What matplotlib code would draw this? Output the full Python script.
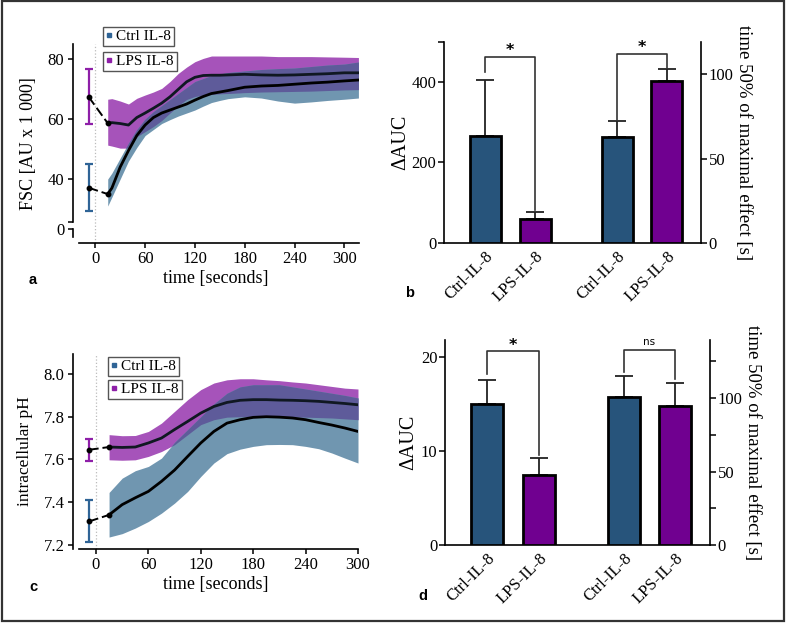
import numpy as np
import matplotlib.pyplot as plt
from matplotlib.lines import Line2D
from matplotlib.patches import Rectangle

plt.rcParams['font.family'] = ['Liberation Serif', 'DejaVu Serif']

W, H = 787, 623

# colours
ctrl_band = '#7096b0'
lps_band = '#a653ba'
both_band = '#5e5b9a'
ctrl_bar = '#27547b'
lps_bar = '#700090'
ctrl_err = '#2f6496'
lps_err = '#8e1fa8'

# ---- panel a : FSC over time ----
t_a = [15, 20, 30, 40, 50, 60, 70, 80, 90, 100, 110, 120, 130, 140, 150, 160,
       180, 200, 220, 240, 260, 280, 300, 317]
fsc_ctrl = [35, 37, 44, 49.5, 54.5, 58, 60.5, 62, 63, 64, 65, 66.3, 67.5, 68.5, 69, 69.5,
            70.6, 71, 71.2, 71.6, 72, 72.3, 72.7, 73]
fsc_ctrl_lo = [31, 34, 40, 46, 50.5, 54.5, 56.5, 58.5, 59.8, 61, 62, 63, 64.3, 65.5, 66.2, 66.8,
               67.4, 67, 66, 65.3, 65.7, 66.2, 66.6, 67]
fsc_ctrl_hi = [40, 42, 47, 52, 56.5, 60, 62.5, 64.5, 66.5, 68.5, 70.5, 72.5, 73.5, 74.5, 75, 75.5,
               76, 76.5, 76.8, 77, 77.5, 78, 78.3, 79]
fsc_lps = [58.6, 58.8, 58.5, 58, 60.5, 62, 63.6, 65.3, 67.4, 69.9, 72.4, 73.9, 74.5, 74.6, 74.6, 74.7,
           74.9, 74.7, 74.6, 74.7, 74.9, 75.1, 75.4, 75.4]
fsc_lps_lo = [51.3, 51, 50.3, 50.3, 54.1, 55.8, 57.5, 59.5, 62, 64.5, 66.5, 67.5, 68, 68.2, 68.4, 68.5,
              68.8, 69, 69.1, 69.2, 69.3, 69.5, 69.7, 69.8]
fsc_lps_hi = [66.6, 66.8, 66, 65, 66.9, 68, 69, 70.2, 72.5, 75.2, 77.3, 79.1, 80.2, 81, 81, 81,
              81, 81, 80.8, 80.8, 80.8, 80.7, 80.6, 80.5]
fsc_base_ctrl, fsc_base_ctrl_lo, fsc_base_ctrl_hi = 37.1, 29.3, 44.9
fsc_base_lps, fsc_base_lps_lo, fsc_base_lps_hi = 67.4, 58.2, 76.7

# ---- panel c : intracellular pH over time ----
t_c = [15, 30, 45, 60, 75, 90, 105, 120, 135, 150, 165, 180, 195, 210, 225, 240, 255, 270, 285, 300]
ph_ctrl = [7.34, 7.388, 7.42, 7.45, 7.497, 7.55, 7.614, 7.677, 7.731, 7.77, 7.786, 7.797, 7.8,
           7.798, 7.794, 7.786, 7.773, 7.761, 7.747, 7.731]
ph_ctrl_lo = [7.236, 7.252, 7.278, 7.309, 7.348, 7.395, 7.45, 7.52, 7.583, 7.627, 7.648, 7.661,
              7.669, 7.67, 7.669, 7.661, 7.65, 7.63, 7.606, 7.583]
ph_ctrl_hi = [7.445, 7.512, 7.547, 7.567, 7.606, 7.68, 7.74, 7.8, 7.86, 7.91, 7.94, 7.95, 7.95,
              7.95, 7.94, 7.93, 7.92, 7.91, 7.9, 7.888]
ph_lps = [7.658, 7.656, 7.658, 7.677, 7.7, 7.74, 7.778, 7.817, 7.848, 7.867, 7.877, 7.88, 7.88,
          7.878, 7.877, 7.875, 7.872, 7.867, 7.862, 7.856]
ph_lps_lo = [7.598, 7.596, 7.598, 7.614, 7.637, 7.669, 7.716, 7.763, 7.786, 7.798, 7.8, 7.8, 7.8,
             7.8, 7.799, 7.798, 7.796, 7.794, 7.79, 7.786]
ph_lps_hi = [7.716, 7.711, 7.712, 7.731, 7.77, 7.825, 7.88, 7.927, 7.958, 7.973, 7.978, 7.978,
             7.973, 7.969, 7.963, 7.958, 7.95, 7.942, 7.934, 7.93]
ph_base_ctrl, ph_base_ctrl_lo, ph_base_ctrl_hi = 7.309, 7.212, 7.408
ph_base_lps, ph_base_lps_lo, ph_base_lps_hi = 7.645, 7.594, 7.697

# ---- panels b and d : bars ----
bar_labels = ['Ctrl-IL-8', 'LPS-IL-8', 'Ctrl-IL-8', 'LPS-IL-8']
b_auc = [265, 60]
b_auc_err = [140, 17]
b_t50 = [63, 96]
b_t50_err = [9, 7]
d_auc = [15.0, 7.45]
d_auc_err = [2.55, 1.8]
d_t50 = [100.7, 94.6]
d_t50_err = [14.3, 15.6]


def px_rect(left, top, right, bottom):
    return [left / W, 1 - bottom / H, (right - left) / W, (bottom - top) / H]


fig = plt.figure(figsize=(W / 100, H / 100), dpi=100)
fig.add_artist(Rectangle((0.003, 0.004), 0.993, 0.994, transform=fig.transFigure,
                         fill=False, edgecolor='#333333', lw=1.6))


def style_time_axis(ax):
    for s in ['top', 'right']:
        ax.spines[s].set_visible(False)
    for s in ['left', 'bottom']:
        ax.spines[s].set_linewidth(1.2)
    ax.tick_params(direction='out', length=3.5, width=1.1, labelsize=12, pad=2.5)
    ax.tick_params(axis='y', which='minor', length=3.5, width=1.1)
    ax.set_xticks([0, 60, 120, 180, 240, 300])
    ax.axvline(0, color='#bbbbbb', lw=0.9, ls=':', zorder=0)


def time_panel(ax, t, ctrl, clo, chi, lps, llo, lhi, base_c, base_l):
    t = np.array(t)
    ax.fill_between(t, llo, lhi, color=lps_band, lw=0, zorder=1)
    ax.fill_between(t, clo, chi, color=ctrl_band, lw=0, zorder=2)
    lo = np.maximum(clo, llo)
    hi = np.minimum(chi, lhi)
    ax.fill_between(t, lo, hi, where=hi > lo, interpolate=True, color=both_band, lw=0, zorder=3)
    ax.plot(t, ctrl, color='black', lw=2, zorder=5)
    ax.plot(t, lps, color='#101822', lw=2, zorder=5)
    for (m, lo_, hi_), first, col in [(base_c, ctrl[0], ctrl_err), (base_l, lps[0], lps_err)]:
        ax.errorbar([-8], [m], yerr=[[m - lo_], [hi_ - m]], fmt='none', ecolor=col,
                    elinewidth=1.6, capsize=3, capthick=1.6, zorder=4)
        ax.plot([-8, t[0]], [m, first], color='black', lw=1.4, ls=(0, (5, 2)), zorder=5)
        ax.plot([-8, t[0]], [m, first], 'o', color='black', ms=3.2, zorder=6)


def legends(ax, top_ctrl, top_lps, left):
    prop = {'family': 'Liberation Serif', 'size': 11}
    legs = []
    for lab, col, top in [('Ctrl IL-8', ctrl_err, top_ctrl), ('LPS IL-8', lps_err, top_lps)]:
        h = Line2D([], [], marker='s', ms=2.3, ls='', color=col)
        leg = ax.legend([h], [lab], loc='upper left',
                        bbox_to_anchor=(left / W, 1 - top / H), bbox_transform=fig.transFigure,
                        frameon=True, fancybox=False, edgecolor='#555555', framealpha=1,
                        handlelength=0.4, handletextpad=0.3, borderpad=0.18,
                        borderaxespad=0, prop=prop)
        leg.get_frame().set_linewidth(1.0)
        legs.append(leg)
    ax.add_artist(legs[0])


# panel a
ax_a = fig.add_axes(px_rect(72.7, 44, 359, 243))
time_panel(ax_a, t_a, fsc_ctrl, fsc_ctrl_lo, fsc_ctrl_hi, fsc_lps, fsc_lps_lo, fsc_lps_hi,
           (fsc_base_ctrl, fsc_base_ctrl_lo, fsc_base_ctrl_hi),
           (fsc_base_lps, fsc_base_lps_lo, fsc_base_lps_hi))
style_time_axis(ax_a)
ax_a.set_xlim(-27.2, 317.7)
ax_a.set_ylim(18.7, 85)
ax_a.spines['bottom'].set_bounds(-19.3, 317.7)
ax_a.spines['left'].set_bounds(25.7, 85)
ax_a.set_yticks([23.3, 40, 60, 80], ['0', '40', '60', '80'])
ax_a.set_yticks([25.7], minor=True)
ax_a.plot([0, 0], [20.8, 23.3], transform=ax_a.get_yaxis_transform(), color='black',
          lw=1.2, clip_on=False)
ax_a.set_xlabel('time [seconds]', fontsize=13, labelpad=2)
ax_a.set_ylabel('FSC [AU x 1 000]', fontsize=13)
ax_a.yaxis.set_label_coords(-0.125, 0.5)
legends(ax_a, 27, 52, 103)

# panel c
ax_c = fig.add_axes(px_rect(73, 354, 358, 549))
time_panel(ax_c, t_c, ph_ctrl, ph_ctrl_lo, ph_ctrl_hi, ph_lps, ph_lps_lo, ph_lps_hi,
           (ph_base_ctrl, ph_base_ctrl_lo, ph_base_ctrl_hi),
           (ph_base_lps, ph_base_lps_lo, ph_base_lps_hi))
style_time_axis(ax_c)
ax_c.set_xlim(-26.3, 300)
ax_c.set_ylim(7.18, 8.094)
ax_c.spines['bottom'].set_bounds(-19.5, 300)
ax_c.set_yticks([7.2, 7.4, 7.6, 7.8, 8.0], ['7.2', '7.4', '7.6', '7.8', '8.0'])
ax_c.set_xlabel('time [seconds]', fontsize=13, labelpad=2)
ax_c.set_ylabel('intracellular pH', fontsize=12.5)
ax_c.yaxis.set_label_coords(-0.14, 0.5)
legends(ax_c, 357, 380, 108)

# bar panels
pos = [0.82, 1.82, 3.46, 4.45]


def bar_panel(rect, auc, auc_err, t50, t50_err, auc_lim, t_lim, auc_ticks, t_ticks, t_minor,
              brk_auc, brk_t, mark_auc, mark_t, auc_top_minor, lab_x):
    ax = fig.add_axes(rect)
    ax2 = ax.twinx()
    cols = [ctrl_bar, lps_bar]
    ax.bar(pos[:2], auc, width=0.62, color=cols, edgecolor='black', lw=2, zorder=3)
    ax2.bar(pos[2:], t50, width=0.62, color=cols, edgecolor='black', lw=2, zorder=3)
    ax.errorbar(pos[:2], auc, yerr=[[0, 0], auc_err], fmt='none', ecolor='#222222',
                elinewidth=1.3, capsize=6.5, capthick=1.3, zorder=2)
    ax2.errorbar(pos[2:], t50, yerr=[[0, 0], t50_err], fmt='none', ecolor='#222222',
                 elinewidth=1.3, capsize=6.5, capthick=1.3, zorder=2)
    for a, (x0, x1), (y0, top, y1), mark in [(ax, pos[:2], brk_auc, mark_auc),
                                             (ax2, pos[2:], brk_t, mark_t)]:
        a.plot([x0, x0, x1, x1], [y0, top, top, y1], color='#333333', lw=1.2, zorder=4)
        if mark == '*':
            a.annotate('*', ((x0 + x1) / 2, top), xytext=(0, -1), textcoords='offset points',
                       ha='center', va='bottom', fontsize=11.5, fontweight='bold',
                       family='DejaVu Sans')
        else:
            a.annotate(mark, ((x0 + x1) / 2, top), xytext=(0, 2), textcoords='offset points',
                       ha='center', va='bottom', fontsize=7.5, family='DejaVu Sans')
    ax.set_xlim(0, 5.13)
    ax.set_ylim(*auc_lim)
    ax2.set_ylim(*t_lim)
    ax.set_yticks(auc_ticks)
    ax.set_yticks(auc_top_minor, minor=True)
    ax2.set_yticks(t_ticks)
    ax2.set_yticks(t_minor, minor=True)
    ax.set_xticks(pos, bar_labels, rotation=45, ha='right', rotation_mode='anchor')
    for s in ['top', 'right']:
        ax.spines[s].set_visible(False)
    for s in ['top', 'left', 'bottom']:
        ax2.spines[s].set_visible(False)
    for s in ['left', 'bottom']:
        ax.spines[s].set_linewidth(1.2)
    ax2.spines['right'].set_linewidth(1.2)
    for a in (ax, ax2):
        a.tick_params(direction='out', length=4, width=1.1, labelsize=12, pad=1.5)
        a.tick_params(which='minor', direction='out', length=4, width=1.1)
    ax.tick_params(axis='x', length=0, labelsize=12, pad=4)
    ax.set_ylabel('ΔAUC', fontsize=14.5)
    ax.yaxis.set_label_coords(lab_x[0], 0.5)
    ax2.set_ylabel('time 50% of maximal effect [s]', fontsize=13.5, rotation=-90, va='center')
    ax2.yaxis.set_label_coords(lab_x[1], 0.5)
    return ax, ax2


bar_panel(px_rect(444, 42, 701, 243), b_auc, b_auc_err, b_t50, b_t50_err,
          (0, 499), (0, 119), [0, 200, 400], [0, 50, 100], [], (425, 462, 82), (73, 112, 103.5),
          '*', '*', [499], (-0.13, 1.165))
bar_panel(px_rect(445, 340, 710, 545), d_auc, d_auc_err, d_t50, d_t50_err,
          (0, 21.8), (0, 139.5), [0, 10, 20], [0, 50, 100], [25, 75, 125],
          (18.2, 20.6, 9.6), (118, 133, 113), '*', 'ns', [], (-0.1, 1.16))

# panel letters
for lab, x, y in [('a', 29, 280), ('b', 405, 293), ('c', 29, 587), ('d', 418, 596)]:
    fig.text(x / W, 1 - y / H, lab, fontsize=10.5, fontweight='bold', family='Liberation Sans',
             ha='left', va='center')

fig.savefig('out.png', dpi=100)
